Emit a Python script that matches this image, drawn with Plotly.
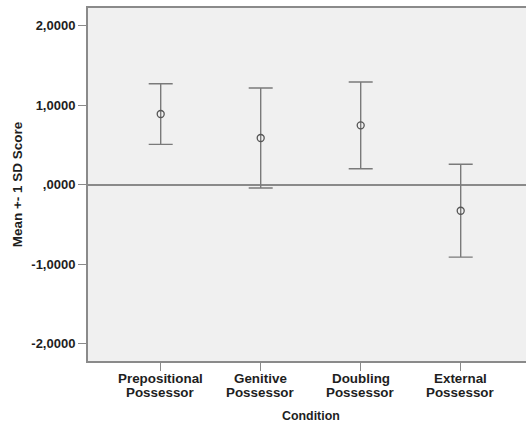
import plotly.graph_objects as go

categories = ["Prepositional<br>Possessor", "Genitive<br>Possessor",
              "Doubling<br>Possessor", "External<br>Possessor"]
means = [0.888, 0.587, 0.746, -0.327]
sds = [0.381, 0.628, 0.545, 0.583]
y_tickvals = [-2, -1, 0, 1, 2]
y_ticktext = ["-2,0000", "-1,0000", ",0000", "1,0000", "2,0000"]
x_title = "Condition"
y_title = "Mean +- 1 SD Score"

FONT = "Liberation Sans, Arial, sans-serif"
AXIS_COLOR = "#8a8a8a"
TEXT_COLOR = "#1e1e1e"

xs = list(range(len(categories)))

fig = go.Figure()
fig.add_trace(go.Scatter(
    x=xs,
    y=means,
    mode="markers",
    marker=dict(symbol="circle-open", size=7, color="#555555",
                line=dict(width=1.3, color="#555555")),
    error_y=dict(type="data", array=sds, symmetric=True,
                 color="#7a7a7a", thickness=1.4, width=12),
    showlegend=False,
    hoverinfo="skip",
))

# Category labels: two tightly spaced lines each
annotations = []
for i, cat in enumerate(categories):
    for j, line in enumerate(cat.split("<br>")):
        annotations.append(dict(
            x=xs[i], xref="x", y=0, yref="paper",
            yanchor="top", xanchor="center",
            yshift=-8 - 13.7 * j,
            text=line, showarrow=False,
            font=dict(size=13.4, family=FONT, weight="bold", color=TEXT_COLOR),
        ))
annotations.append(dict(
    x=0.509, xref="paper", y=0, yref="paper",
    yanchor="top", xanchor="center", yshift=-46,
    text=x_title, showarrow=False,
    font=dict(size=12.4, family=FONT, weight="bold", color=TEXT_COLOR),
))

fig.update_layout(
    width=526, height=423,
    margin=dict(l=88, r=0, t=8, b=62),
    paper_bgcolor="white",
    plot_bgcolor="#f0f0f0",
    font=dict(family=FONT, color=TEXT_COLOR),
    annotations=annotations,
    xaxis=dict(
        range=[-0.727, 3.653],
        tickvals=xs,
        ticktext=["" for _ in categories],
        ticks="outside", ticklen=8, tickwidth=1.3, tickcolor=AXIS_COLOR,
        showline=True, linecolor=AXIS_COLOR, linewidth=2, mirror=True,
        showgrid=False, zeroline=False,
    ),
    yaxis=dict(
        range=[-2.215, 2.22],
        tickvals=y_tickvals,
        ticktext=y_ticktext,
        ticks="outside", ticklen=8, tickwidth=1.3, tickcolor=AXIS_COLOR,
        showline=True, linecolor=AXIS_COLOR, linewidth=2,
        showgrid=False,
        zeroline=True, zerolinecolor="#8a8a8a", zerolinewidth=1.6,
        tickfont=dict(size=13, family=FONT, weight="bold", color=TEXT_COLOR),
        title=dict(text=y_title, standoff=6,
                   font=dict(size=13.5, family=FONT, weight="bold", color=TEXT_COLOR)),
    ),
)

# remove the browser's default body margin so the figure sits at the page corner
fig.write_html(
    "out.html",
    config={"displayModeBar": False},
    post_script="document.body.style.margin='0';"
                "document.documentElement.style.overflow='hidden';",
)
